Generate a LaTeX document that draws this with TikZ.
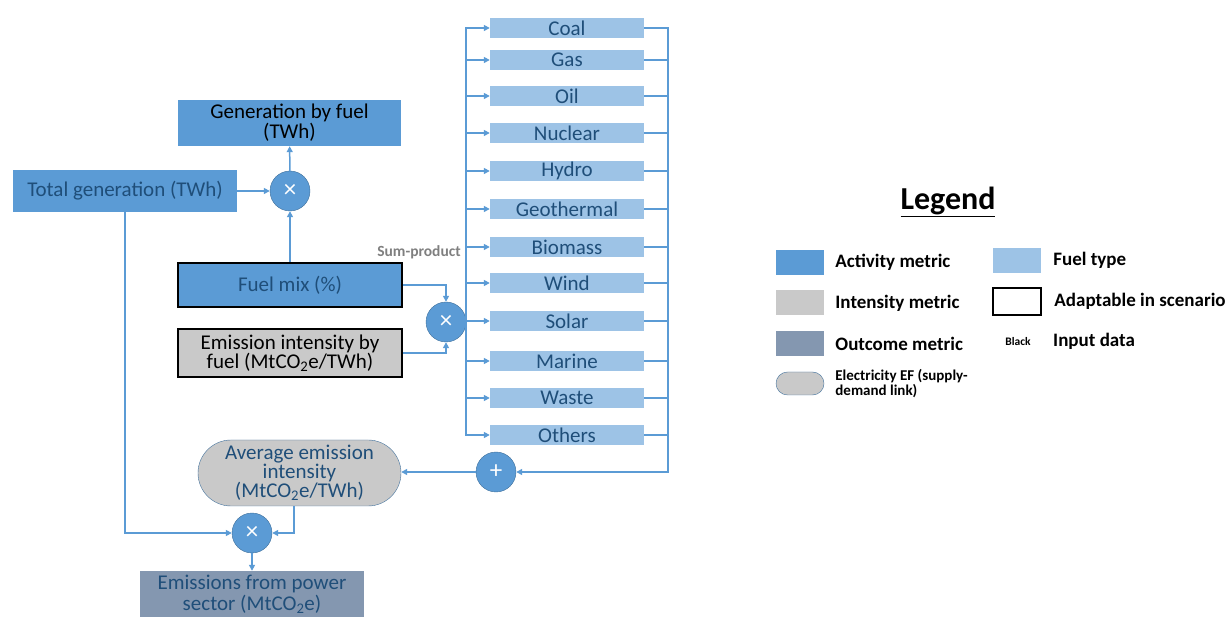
\documentclass[tikz,border=0pt]{standalone}
\usepackage{fontspec}
\setmainfont{Carlito}
\usetikzlibrary{positioning,shapes.misc,arrows.meta}

\definecolor{activity}{HTML}{5B9BD5}
\definecolor{fueltype}{HTML}{9DC3E6}
\definecolor{intensity}{HTML}{C9C9C9}
\definecolor{outcome}{HTML}{8497B0}
\definecolor{labeltext}{HTML}{1F4E79}
\definecolor{rimblue}{HTML}{41719C}
\definecolor{sumgray}{HTML}{7F7F7F}

\tikzset{
  metric/.style={rectangle, inner sep=0pt, align=center, text=labeltext,
    font=\fontsize{21}{19}\selectfont},
  activity/.style={metric, fill=activity},
  fuel/.style={metric, fill=fueltype, minimum width=154pt, minimum height=20pt,
    font=\fontsize{21}{21}\selectfont},
  adaptable/.style={draw=black, line width=2.5pt},
  operator/.style={circle, fill=activity, draw=rimblue, minimum size=40pt,
    inner sep=0pt, text=white, font=\fontsize{25}{25}\selectfont},
  flow/.style={draw=activity, line width=1.5pt, -{Triangle[length=6pt,width=6pt]}},
  link/.style={draw=activity, line width=1.5pt},
  keybox/.style={inner sep=0pt, minimum width=48pt, minimum height=25pt},
  keytext/.style={anchor=west, inner sep=0pt, font=\bfseries\fontsize{19}{19}\selectfont},
}

\begin{document}
\begin{tikzpicture}[x=1pt,y=-1pt]
  \useasboundingbox (0,0) rectangle (1227,617);

  % inputs and generation
  \node[activity, text=black, minimum width=223pt, minimum height=46pt, font=\fontsize{21}{17}\selectfont] (genfuel) at (289.5,123) {Generation by fuel\\(TWh)};
  \node[activity, minimum width=224pt, minimum height=42pt] (totalgen) at (125,191) {Total generation (TWh)};
  \node[operator] (mulA) at (290,191) {×};
  \node[activity, adaptable, minimum width=224pt, minimum height=44pt] (fuelmix) at (290,285) {Fuel mix (\%)};
  \node[metric, fill=intensity, adaptable, text=black, minimum width=224pt, minimum height=48pt] (emint) at (290,353) {Emission intensity by\\fuel (MtCO\textsubscript{2}e/TWh)};
  \node[operator] (mulB) at (446,322) {×};
  \node[text=sumgray, font=\bfseries\fontsize{15.5}{15.5}\selectfont] (sumprod) at (419,252) {Sum-product};

  % fuel types
  \foreach \key/\name/\y in {coal/Coal/28, gas/Gas/60, oil/Oil/96, nuclear/Nuclear/133,
      hydro/Hydro/171, geothermal/Geothermal/209, biomass/Biomass/247, wind/Wind/283,
      solar/Solar/321, marine/Marine/361, waste/Waste/398, others/Others/435}
    \node[fuel] (\key) at (567,\y) {\name};

  % outputs
  \node[operator] (sum) at (496,472) {+};
  \node[metric, shape=rounded rectangle, fill=intensity, draw=rimblue, minimum width=203pt,
        minimum height=66pt] (avgint) at (299.5,473) {Average emission\\intensity\\(MtCO\textsubscript{2}e/TWh)};
  \node[operator] (mulC) at (252,533) {×};
  \node[metric, fill=outcome, minimum width=224pt, minimum height=46pt, font=\fontsize{21}{21}\selectfont] (emis) at (252,594) {Emissions from power\\sector (MtCO\textsubscript{2}e)};

  % connectors
  \draw[flow] (totalgen) -- (mulA);
  \draw[flow] (mulA) -- (genfuel);
  \draw[flow] (fuelmix) -- (mulA);
  \draw[flow] (fuelmix.east) -| (mulB.north);
  \draw[flow] (emint.east) -| (mulB.south);
  \coordinate (lbus) at (mulB.east);
  \draw[flow] (lbus) |- (coal.west);
  \draw[flow] (lbus) |- (others.west);
  \foreach \key in {gas,oil,nuclear,hydro,geothermal,biomass,wind,solar,marine,waste}
    \draw[flow] (lbus |- \key.west) -- (\key.west);
  \coordinate (rbus) at (668,28);
  \draw[flow] (coal.east) -- (rbus) |- (sum.east);
  \foreach \key in {gas,oil,nuclear,hydro,geothermal,biomass,wind,solar,marine,waste,others}
    \draw[link] (\key.east) -- (rbus |- \key.east);
  \draw[flow] (sum.west) -- (sum.west -| avgint.east);
  \draw[flow] (totalgen.south) |- (mulC.west);
  \draw[flow] ([xshift=-5.5pt]avgint.south) |- (mulC.east);
  \draw[flow] (mulC) -- (emis);

  % legend
  \node[font=\bfseries\fontsize{32}{32}\selectfont] (legend) at (948,202) {\underline{Legend}};
  \node[keybox, fill=activity] (keyact) at (800,262.5) {};
  \node[keytext, right=11pt of keyact] (keyacttext) {Activity metric};
  \node[keybox, fill=intensity] (keyint) at (800,303) {};
  \node[keytext, right=11pt of keyint] (keyinttext) {Intensity metric};
  \node[keybox, fill=outcome] (keyout) at (800,344) {};
  \node[keytext, right=11pt of keyout] (keyouttext) {Outcome metric};
  \node[keybox, shape=rounded rectangle, fill=intensity, draw=rimblue, minimum height=23pt] (keyef) at (800,383.5) {};
  \node[keytext, right=11pt of keyef, align=left, font=\bfseries\fontsize{15}{11}\selectfont] (keyeftext) {Electricity EF (supply-\\demand link)};
  \node[keybox, fill=fueltype] (keyfuel) at (1017,260.5) {};
  \node[keytext, right=12pt of keyfuel] (keyfueltext) {Fuel type};
  \node[keybox, adaptable, fill=white, minimum height=27pt] (keyadapt) at (1017,301.5) {};
  \node[keytext, right=12pt of keyadapt] (keyadapttext) {Adaptable in scenario};
  \node[font=\bfseries\fontsize{11.5}{11.5}\selectfont] (keyblack) at (1018,342) {Black};
  \node[keytext] (keyblacktext) at (1053,341) {Input data};
\end{tikzpicture}
\end{document}
